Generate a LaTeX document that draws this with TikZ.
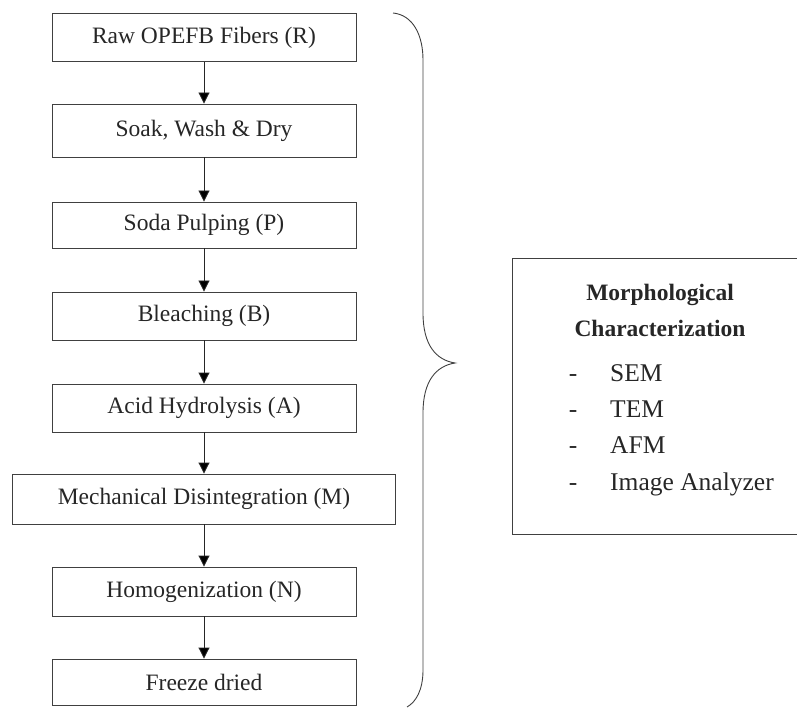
\documentclass[tikz,border=0pt]{standalone}
\usepackage{fontspec}
\setmainfont{Liberation Serif}
\usetikzlibrary{arrows.meta}
\begin{document}
\begin{tikzpicture}[x=1pt,y=-1pt]
	\tikzstyle{stage}=[rectangle,draw=black!75,line width=0.9pt,minimum width=304pt,minimum height=48pt,inner sep=0pt,text=black!85,font=\fontsize{23.5}{28}\selectfont]
	\tikzstyle{flow}=[draw,line width=0.9pt,draw=black!85,-{Triangle[width=11pt,length=11pt]}]
	\tikzstyle{item}=[anchor=base west,inner sep=0pt,text=black!85,font=\fontsize{25.5}{30}\selectfont]
	\useasboundingbox (0,0) rectangle (797,708);
	\begin{scope}
		\node [stage] (raw) at (204,37.5) {Raw OPEFB Fibers (R)};
		\node [stage,minimum height=53pt] (soak) at (204,130.5) {Soak, Wash \& Dry};
		\node [stage,minimum height=46pt] (pulp) at (204,225) {Soda Pulping (P)};
		\node [stage] (bleach) at (204,316) {Bleaching (B)};
		\node [stage] (acid) at (204,408) {Acid Hydrolysis (A)};
		\node [stage,minimum width=383pt,minimum height=50pt] (mech) at (204,499) {Mechanical Disintegration (M)};
		\node [stage,minimum height=49pt] (homog) at (204,591.5) {Homogenization (N)};
		\node [stage,minimum height=46pt] (freeze) at (204,682) {Freeze dried};

		\path[flow] (raw) edge (soak);
		\path[flow] (soak) edge (pulp);
		\path[flow] (pulp) edge (bleach);
		\path[flow] (bleach) edge (acid);
		\path[flow] (acid) edge (mech);
		\path[flow] (mech) edge (homog);
		\path[flow] (homog) edge (freeze);
	\end{scope}

	% brace round the whole process
	\coordinate (tip) at (455,363);
	\draw[line width=0.9pt,draw=black!75] (393,13) .. controls (413,15) and (423,35) .. (423,60)
		-- (423,313) .. controls (423,345) and (436,360) .. (tip)
		.. controls (436,366) and (423,381) .. (423,413)
		-- (423,670) .. controls (423,690) and (416,702) .. (407,707);

	% characterization box
	\begin{scope}
		\node [draw=black!75,line width=0.9pt,anchor=north west,minimum width=292pt,minimum height=276pt,inner sep=0pt] (charbox) at (512,258) {};
		\node [align=center,inner sep=0pt,text=black!85,font=\fontsize{23.5}{36}\selectfont\bfseries] (charhead) at (660,310) {Morphological\\Characterization};
		\node [item,anchor=base] (d1) at (573,381) {-};
		\node [item,anchor=base] (d2) at (573,417) {-};
		\node [item,anchor=base] (d3) at (573,453) {-};
		\node [item,anchor=base] (d4) at (573,490) {-};
		\node [item] (sem) at (610,381) {SEM};
		\node [item] (tem) at (610,417) {TEM};
		\node [item] (afm) at (610,453) {AFM};
		\node [item] (imga) at (610,490) {Image Analyzer};
	\end{scope}
\end{tikzpicture}
\end{document}
